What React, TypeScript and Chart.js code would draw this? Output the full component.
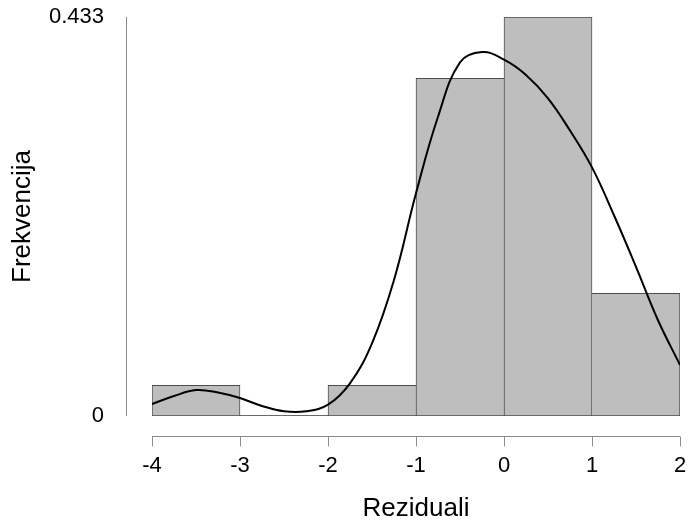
import React, { useEffect, useRef } from "react";
import { Chart, registerables } from "chart.js";

Chart.register(...registerables);

// Histogram bins (width 1) and densities
const binCenters = [-3.5, -2.5, -1.5, -0.5, 0.5, 1.5];
const binDensities = [0.0333, 0, 0.0333, 0.3667, 0.4333, 0.1333];

// Density curve
const curveX = [
  -4, -3.75, -3.5, -3.25, -3, -2.75, -2.5, -2.25, -2, -1.75, -1.5, -1.25, -1,
  -0.75, -0.5, -0.25, 0, 0.25, 0.5, 0.75, 1, 1.25, 1.5, 1.75, 2,
];
const curveY = [
  0.013, 0.0217, 0.0282, 0.0255, 0.0195, 0.0109, 0.0051, 0.0051, 0.0123, 0.0355,
  0.0789, 0.1477, 0.2419, 0.325, 0.384, 0.3952, 0.387, 0.3704, 0.345, 0.31,
  0.27, 0.218, 0.162, 0.104, 0.0554,
];

const xTicks = [-4, -3, -2, -1, 0, 1, 2];
const yTickValues = [0, 0.4333];
const yTickLabels = ["0", "0.433"];

const xTitle = "Reziduali";
const yTitle = "Frekvencija";

const FONT = '"Liberation Sans", Arial, sans-serif';

export default function App() {
  const canvasRef = useRef<HTMLCanvasElement | null>(null);

  useEffect(() => {
    document.body.style.margin = "0";
    const canvas = canvasRef.current;
    if (!canvas) return;

    const n = binDensities.length;

    const axesPlugin = {
      id: "rAxes",
      beforeDatasetsDraw(chart: any) {
        const { ctx, scales } = chart;
        const xs = scales.x;
        const ys = scales.y;
        const y0 = ys.getPixelForValue(0);
        ctx.save();
        ctx.strokeStyle = "#4d4d4d";
        ctx.lineWidth = 1;
        ctx.beginPath();
        ctx.moveTo(xs.getPixelForValue(xTicks[0]), Math.round(y0) - 0.5);
        ctx.lineTo(xs.getPixelForValue(xTicks[xTicks.length - 1]), Math.round(y0) - 0.5);
        ctx.stroke();
        ctx.restore();
      },
      afterDraw(chart: any) {
        const { ctx, scales, chartArea } = chart;
        const xs = scales.x;
        const ys = scales.y;
        ctx.save();
        ctx.strokeStyle = "#8c8c8c";
        ctx.lineWidth = 1;
        const ax = Math.round(chartArea.left - 26) + 0.5;
        ctx.beginPath();
        ctx.moveTo(ax, ys.getPixelForValue(yTickValues[1]));
        ctx.lineTo(ax, ys.getPixelForValue(yTickValues[0]));
        ctx.stroke();
        const ay = Math.round(chartArea.bottom + 20) + 0.5;
        ctx.beginPath();
        ctx.moveTo(xs.getPixelForValue(xTicks[0]), ay);
        ctx.lineTo(xs.getPixelForValue(xTicks[xTicks.length - 1]), ay);
        ctx.stroke();
        for (const t of xTicks) {
          const px = Math.round(xs.getPixelForValue(t)) + 0.5;
          ctx.beginPath();
          ctx.moveTo(px, ay);
          ctx.lineTo(px, ay + 10);
          ctx.stroke();
        }
        ctx.restore();
      },
    };

    const chart = new Chart(canvas, {
      type: "bar",
      data: {
        datasets: [
          {
            type: "line",
            data: curveX.map((x, i) => ({ x, y: curveY[i] })),
            borderColor: "#000000",
            borderWidth: 2,
            pointRadius: 0,
            fill: false,
            tension: 0.4,
            order: 0,
          } as any,
          {
            type: "bar",
            data: binCenters.map((x, i) => ({ x, y: binDensities[i] })),
            backgroundColor: "#bebebe",
            borderColor: "#4d4d4d",
            borderSkipped: false,
            borderWidth: (c: any) => {
              const i = c.dataIndex;
              const v = binDensities;
              return {
                top: 1,
                bottom: 1,
                left: i === 0 || v[i - 1] <= v[i] ? 1 : 0,
                right: i === n - 1 || v[i + 1] < v[i] ? 1 : 0,
              };
            },
            barPercentage: 1,
            categoryPercentage: 1,
            order: 1,
          } as any,
        ],
      },
      options: {
        responsive: false,
        animation: false,
        layout: { padding: { top: 17, right: 9, bottom: 0, left: 0 } },
        plugins: {
          legend: { display: false },
          tooltip: { enabled: false },
        },
        scales: {
          x: {
            type: "linear",
            min: xTicks[0],
            max: xTicks[xTicks.length - 1],
            offset: false,
            grid: { display: false, drawTicks: false },
            border: { display: false },
            afterBuildTicks: (s: any) => {
              s.ticks = xTicks.map((v) => ({ value: v }));
            },
            afterFit: (s: any) => {
              s.height = 108;
              s.paddingLeft = 0;
              s.paddingRight = 0;
            },
            ticks: {
              color: "#000",
              padding: 37,
              maxRotation: 0,
              autoSkip: false,
              font: { family: FONT, size: 22 },
              callback: (v: any) => String(v),
            },
            title: {
              display: true,
              text: xTitle,
              color: "#000",
              font: { family: FONT, size: 26 },
              padding: { top: 0, bottom: 0 },
            },
          },
          y: {
            type: "linear",
            min: yTickValues[0],
            max: yTickValues[1],
            grid: { display: false, drawTicks: false },
            border: { display: false },
            afterBuildTicks: (s: any) => {
              s.ticks = yTickValues.map((v) => ({ value: v }));
            },
            afterFit: (s: any) => {
              s.width = 152;
              s.paddingTop = 0;
              s.paddingBottom = 0;
            },
            ticks: {
              color: "#000",
              padding: 48,
              autoSkip: false,
              font: { family: FONT, size: 22 },
              callback: (v: any) => {
                const idx = yTickValues.indexOf(v);
                return idx >= 0 ? yTickLabels[idx] : "";
              },
            },
            title: {
              display: true,
              text: yTitle,
              color: "#000",
              font: { family: FONT, size: 26 },
              padding: { top: 7, bottom: 0 },
            },
          },
        },
      },
      plugins: [axesPlugin],
    });

    return () => chart.destroy();
  }, []);

  return (
    <div style={{ width: 689, height: 524, background: "#fff" }}>
      <canvas ref={canvasRef} width={689} height={524} />
    </div>
  );
}
